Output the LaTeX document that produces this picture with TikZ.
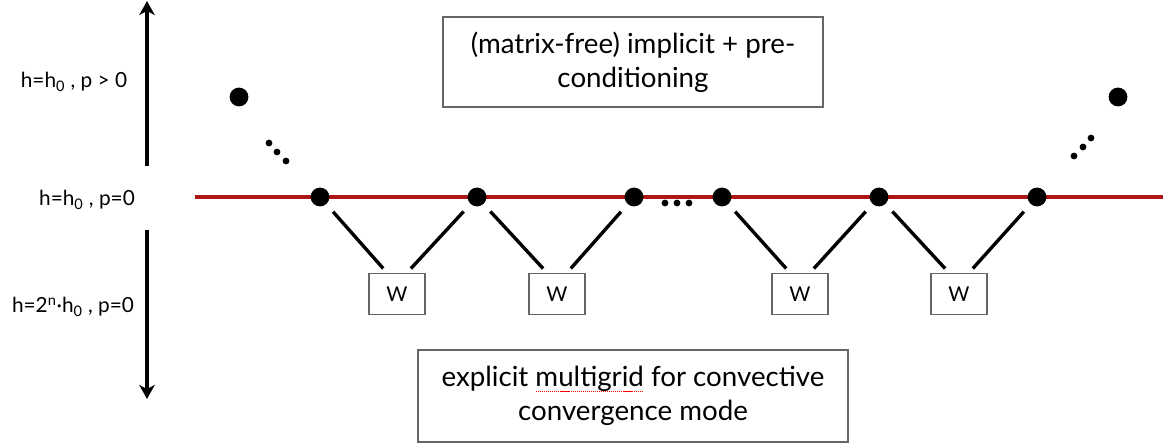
\documentclass[tikz,border=0pt]{standalone}
\usepackage{fontspec}
\setmainfont{Lato}
\usetikzlibrary{arrows.meta}

\definecolor{gridred}{RGB}{172,22,22}
% red dotted mark under a word
\newcommand\spellmark[1]{%
  \setbox0\hbox{#1}%
  \rlap{\raisebox{-3.5pt}{\color{red}\hbox to \wd0{\leaders\hbox to 1.4pt{\hss\rule{0.8pt}{0.8pt}\hss}\hfill}}}%
  \box0\relax}
\tikzset{
  gridpt/.style={circle,fill=black,inner sep=0pt,minimum size=0.47cm},
  tinypt/.style={circle,fill=black,inner sep=0pt,minimum size=0.17cm},
  wbox/.style={draw=black!60,line width=0.9pt,minimum width=1.4cm,minimum height=1.02cm,
    inner sep=0pt,font=\fontsize{14.5}{16}\selectfont},
  textbox/.style={draw=black!60,line width=0.9pt,align=center,inner sep=0pt,
    font=\fontsize{19.7}{24}\selectfont},
  levellbl/.style={font=\fontsize{14.8}{16}\selectfont},
  leg/.style={line width=2.4pt,shorten <=0.25cm,shorten >=0.15cm},
  axis/.style={line width=2.2pt,-{Stealth[length=10pt,width=11pt,inset=3pt]}}
}

\begin{document}
\begin{tikzpicture}[x=0.025cm,y=-0.025cm]
  \useasboundingbox (0,0) rectangle (1163,445);

  % level axis on the left
  \coordinate (upbot) at (147,166);
  \coordinate (uptop) at (147,1);
  \coordinate (dntop) at (147,230);
  \coordinate (dnbot) at (147,399);
  \draw[axis] (upbot) -- (uptop);
  \draw[axis] (dntop) -- (dnbot);
  \node[levellbl] (lblhi) at (74,82) {h=h\textsubscript{0} , p > 0};
  \node[levellbl] (lblmid) at (87,200) {h=h\textsubscript{0} , p=0};
  \node[levellbl] (lbllo) at (73,307) {h=2\textsuperscript{n}·h\textsubscript{0} , p=0};

  % the p=0 line
  \coordinate (lstart) at (195,197);
  \coordinate (lend) at (1163,197);
  \draw[gridred,line width=2.6pt] (lstart) -- (lend);

  \foreach \x/\n in {320/n1,477/n2,634/n3,722/n4,879/n5,1037/n6}
    \node[gridpt] (\n) at (\x,197) {};
  \foreach \x/\n in {665/d1,677/d2,689/d3}
    \node[tinypt] (\n) at (\x,203) {};

  % higher p on both ends
  \node[gridpt] (tl) at (239,97) {};
  \node[gridpt] (tr) at (1118,97) {};
  \node[tinypt] (tl1) at (269,143) {};
  \node[tinypt] (tl2) at (277,152) {};
  \node[tinypt] (tl3) at (286,161) {};
  \node[tinypt] (tr1) at (1091,138) {};
  \node[tinypt] (tr2) at (1083,147) {};
  \node[tinypt] (tr3) at (1074,156) {};

  % coarse levels
  \node[wbox] (w1) at (397,294) {W};
  \node[wbox] (w2) at (557,294) {W};
  \node[wbox] (w3) at (800,294) {W};
  \node[wbox] (w4) at (959,294) {W};
  \draw[leg] (n1) -- (w1.115);
  \draw[leg] (n2) -- (w1.65);
  \draw[leg] (n2) -- (w2.115);
  \draw[leg] (n3) -- (w2.65);
  \draw[leg] (n4) -- (w3.115);
  \draw[leg] (n5) -- (w3.65);
  \draw[leg] (n5) -- (w4.115);
  \draw[leg] (n6) -- (w4.65);

  \node[textbox,minimum width=9.5cm,minimum height=2.25cm] (implicit) at (633,62)
    {(matrix-free) implicit + pre-\\conditioning};
  \node[textbox,minimum width=10.75cm,minimum height=2.3cm] (explicit) at (633,396)
    {explicit \spellmark{multigrid} for convective\\convergence mode};
\end{tikzpicture}
\end{document}
